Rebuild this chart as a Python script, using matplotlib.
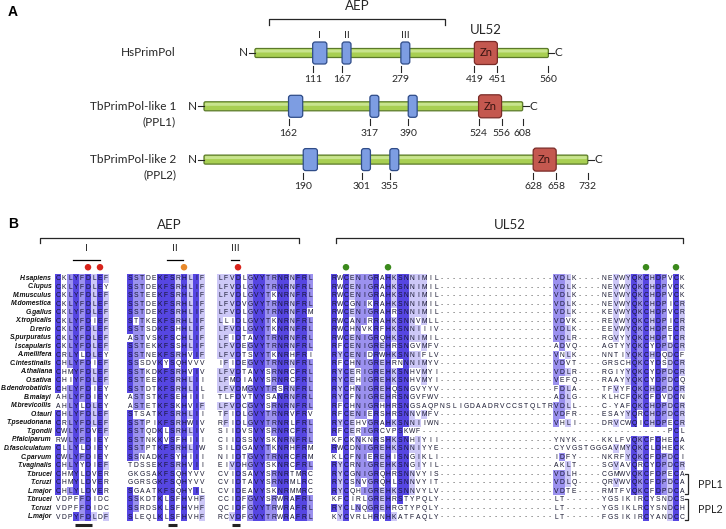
import numpy as np
import matplotlib
matplotlib.use('Agg')
import matplotlib.pyplot as plt
from matplotlib.patches import FancyBboxPatch
from matplotlib.colors import ListedColormap, BoundaryNorm

# ---------------- panel A: domain maps ----------------
PROTEINS = ['HsPrimPol', 'TbPrimPol-like 1', 'TbPrimPol-like 2']
SUBLABELS = ['', '(PPL1)', '(PPL2)']
LENGTHS = [560, 608, 732]
MOTIF_I = [111, 162, 190]
MOTIF_II = [167, 317, 301]
MOTIF_III = [279, 390, 355]
ZN_START = [419, 524, 628]
ZN_END = [451, 556, 658]
ROMAN = ['I', 'II', 'III']
AEP_SPAN_HS = (28, 363)

# ---------------- panel B: alignment ----------------
SPECIES = ['H.sapiens', 'C.lupus', 'M.musculus', 'M.domestica', 'G.gallus', 'X.tropicalis',
           'D.rerio', 'S.purpuratus', 'I.scapularis', 'A.mellifera', 'C.intestinalis',
           'A.thaliana', 'O.sativa', 'B.dendrobatidis', 'B.malayi', 'M.brevicollis', 'O.tauri',
           'T.pseudonana', 'T.gondii', 'P.falciparum', 'D.fasciculatum', 'C.parvum',
           'T.vaginalis', 'T.brucei', 'T.cruzi', 'L.major', 'T.brucei', 'T.cruzi', 'L.major']
SEQ_I = ['CKLYFDLEF', 'CKLYFDLEY', 'CKLYFDLEF', 'CKLYFDLEF', 'CKLYFDLEF', 'CKLYFDIEF',
         'CKLYFDLEF', 'CKLYFDLEF', 'CKLYFDLEF', 'CRLYLDLEY', 'CHLYFDIEF', 'CHMYFDLEF',
         'CHIYFDLEF', 'CHLYFDIEY', 'AHLYFDIEY', 'AHLYLDLEY', 'CHLYFDLEF', 'CRLYFDLEF',
         'CWLYFDVEF', 'RWLYFDIEY', 'CLLYLDIEY', 'CWLYFDIEY', 'CHLYYDIEF', 'CHMYLDVER',
         'CHMYLDVER', 'CHLYLDVER', 'VDPFFDIDC', 'VDPFFDIDC', 'VDPYFDLDF']
SEQ_II = ['SSTDEKFSRHLIF', 'SSTDEKFSRHLIF', 'SSTEEKFSRHLIF', 'SSTDEKFSRHLIF', 'SSTDEKFSRHLIF',
          'STTKEKFSRHLIF', 'SSTSDKFSHHLIF', 'ASTVSKFSCHLIF', 'SSTEKKFSSHLIF', 'SSTNEKFSRHVIF',
          'SSSDVKYSQHVVV', 'SSTKDKFSRHVIV', 'SSTEEKFSRHLII', 'SSTDTKFSRHLIL', 'ASTSTKFSEHIII',
          'ASTETKFSKHVIF', 'STSATKFSRHLII', 'SSTPIKFSRHWIV', 'SSTQDKLSRHLIV', 'SSTNKKVSFHIII',
          'SSTPTKFSRHLIW', 'SSNADKFSYHIII', 'TDSSEKFSRHVII', 'GKGSAKFSQHYVV', 'GGRSGKFSQHYVV',
          'SGAATKFSQHYIL', 'SSKDTKLSFHVHF', 'SSRDSKLSFHVHF', 'SLEQLKLSFHVHF']
SEQ_III = ['LFVDLGVYTRNRNFRL', 'LFVDLGVYTRNRNFRL', 'LFVDLGVYTKNRNFRL', 'LFVDVGVYTRNRNFRL',
           'LFVDLGVYTRNRNFRM', 'LLIDLGVYTKNRNFRL', 'LFVDLGVYTKNRNFRL', 'LFIDTAVYTRNRNFRL',
           'LFVDEGVYTRNRNFRL', 'LFVDTSVYTKNRHFRI', 'IFIDEGVYTRNRNFRL', 'LFVDTAVYSRNRCFRL',
           'LFMDIAVYSRNRCFRL', 'LFVDMGVYTRSRNFRL', 'TLFDVTVYSANRNFRL', 'LFVDCGVYSRNRNFRL',
           'TFIDLGVYTRNRVFRV', 'RFIDLGVYTRNRLFRL', 'SIIDVSVYSRNRCFRL', 'CIIDSSVYSKNRNFRL',
           'SILDGAVYTKNRHFRM', 'NIIDTGVYTRNRCFRM', 'EIVDHGVYSKNRCFRL', 'CVIDSAVYSRNRTMRC',
           'CVIDTAVYSRNRMLRC', 'CVIDEAVYSKNRMMRC', 'CCIDFGVYSRWRAFRL', 'QCIDFGVYTRWRAFRL',
           'RCVDFGVYTRWRAFRL']
UL52_LEFT = ['RWCENIGRAHKSNNIMIL', 'RWCENIGRAHKSNNIMIL', 'RWCENIGRAHKSNNIMIL', 'RWCGNIKRAHKSNNIMIL',
             'RWCENIGRAHRSNNIMIL', 'RWCANIRRAHKSNNVMLL', 'RWCHNVKRFHKSNNIIIV', 'RWCENIGRQHKSNNIMIL',
             'RFCENIGREHRSNGVMFV', 'RYCENIDRWHKSNNIFLV', 'RFCHNIGREHRNNNIMYV', 'RYCERIGREHKSNHVMYI',
             'RYCEHIGREHKSNHVMYI', 'RYCHNIGREHQSNGVYYV', 'RYCFNIGREHRSNGVFWV',
             'RFCHNIGRHHRSNGSAQPNSLIGDAADRVCCSTQLTR', 'RFCENIERSHRSNNVMFV', 'RYCEHVGRAHKSNNIIWN',
             'RFCERIGRCVPSKWF', 'KFCKNKNRSHKSNHIYII', 'RWCDNIGREHKSNNIYYE', 'KLCFNIEREHISNGIKLI',
             'RYCRNIGREHKSNGIYIL', 'RYCGNIGRQHRSNNVYIS', 'RYCSNVGRQHLSNNVYIT', 'RYCQHIGREHKSNNVYLV',
             'KFCIRLGREHRSTYPQLY', 'RYCLNQGREHRGTYPQLY', 'KYCVRLHRNHKATFAQLY']
UL52_RIGHT = ['VDLK----NEVWYQKCHDPVCK', 'VDLK----NEVWYQKCHDPVCK', 'VDLK----NEVWYQKCHDPVCK',
              'VDLK----NEVWYQKCHDPICR', 'VDLK----KEVWYQKCHDPVCR', 'VDVK----REVWYQKCHDPICR',
              'VDLK----EEVWYQKCHDPECR', 'VDLR----RGVYYQKCHDPTCR', 'ADVQ----AGTYYQKCYDPDCR',
              'VNLK----NNTIYQKCHDQDCF', 'VDVT----GRSCHQKCYDSDCR', 'VDLR----RGIYYQKCYDPDCR',
              'VEFQ----RAAYYQKCYDPDCQ', 'FDLA----TFVYFQKCHDPDCR', 'ADLG----KLHCFQKCFDVDCN',
              'VDLL----C-YAFQKCHDPDCR', 'VDFR----ESAYYQRCHDPDCR', 'VHLI----DRVCWQICHDPECR',
              'PCL', 'YNYK----KKLFVQKCFDHECA', 'CYVGSTGGGAVMYQKCLDHECK',
              'IDFY----NKRFYQKCFDPDCI', 'AKLT----SGVAVQRCYDPDCR', 'VDLH----CGMWVQKCFDPECA',
              'VDLQ----QRVWVQKCFDPDCA', 'VDTE----RMTFVQKCFDPDCA', 'LT------YGSIKIRCYSNDCS',
              'LT------YGSIKLRCYSNDCH', 'LT------FGSIKIRCYANDCC']
DOT_COLS = [5, 7, 21, 30, 48, 55, 98, 103]
DOT_COLORS = ['#d8241c', '#d8241c', '#e8892b', '#d8241c', '#3b8a1c', '#3b8a1c', '#3b8a1c', '#3b8a1c']
MOTIF_LABEL_SPANS = [(2.5, 7.0), (18.2, 20.8), (28.8, 30.2)]
MOTIF_UNDERLINES = [(2.8, 5.7), (18.3, 19.8), (29.0, 30.3)]
GROUPS = [('PPL1', 23, 25), ('PPL2', 26, 28)]

TXT = '#262626'
FA = 'Lato'
FB = 'Liberation Sans'

W, H = 726, 529
fig = plt.figure(figsize=(W / 100, H / 100), dpi=100)


def px_axes(x0, y0, x1, y1):
    ax = fig.add_axes([x0 / W, 1 - y1 / H, (x1 - x0) / W, (y1 - y0) / H])
    ax.axis('off')
    return ax


# ======== panel A ========
PXR, PXROW = 0.525, 53.3      # pixels per residue / per protein row
OFFSETS = [97, 0, 0]           # HsPrimPol drawn shifted so the Zn domains line up
axA = px_axes(0, 0, W, 212)
axA.set_xlim(1 - 204 / PXR, 1 + (W - 204) / PXR)
axA.set_ylim((212 - 53) / PXROW, -53 / PXROW)
dx = lambda p: p / PXR
dy = lambda p: p / PXROW
asp = PXR / PXROW


def rbox(x, y, w, h, fc, ec, r=2.5, z=2):
    p = FancyBboxPatch((x, y), w, h, boxstyle=f'round,pad=0,rounding_size={dx(r)}',
                       mutation_aspect=asp, fc=fc, ec=ec, lw=0.9, zorder=z)
    axA.add_patch(p)


def tick(x, y, lab):
    axA.plot([x, x], [y + dy(13), y + dy(19)], color=TXT, lw=0.8)
    axA.text(x, y + dy(27), str(lab), ha='center', va='center', fontsize=7.5, family=FA, color=TXT)


for i, name in enumerate(PROTEINS):
    off, L, y = OFFSETS[i], LENGTHS[i], i
    x0, x1 = off + 1, off + L
    rbox(x0, y - dy(4.5), L - 1, dy(9), '#a8cf52', '#5b7a2a', r=1.5)
    rbox(x0 + dx(1), y - dy(3.5), L - 1 - dx(2), dy(3), '#c8e48e', 'none', r=1, z=2.1)
    axA.plot([x0 - dx(6), x0], [y, y], color=TXT, lw=0.8)
    axA.plot([x1, x1 + dx(6)], [y, y], color=TXT, lw=0.8)
    axA.text(x0 - dx(7), y, 'N', ha='right', va='center', fontsize=8.5, family=FA, color=TXT)
    axA.text(x1 + dx(6.5), y, 'C', ha='left', va='center', fontsize=8.5, family=FA, color=TXT)
    axA.text(1 + (176 - 204) / PXR, y, name, ha='right', va='center', fontsize=8.5, family=FA, color=TXT)
    if SUBLABELS[i]:
        axA.text(1 + (176 - 204) / PXR, y + dy(15), SUBLABELS[i], ha='right', va='center',
                 fontsize=8.5, family=FA, color=TXT)
    for s, w, rn in zip([MOTIF_I[i], MOTIF_II[i], MOTIF_III[i]], [27, 17, 17], ROMAN):
        rbox(off + s, y - dy(11), w, dy(22), '#7d9de2', '#2f4c88', r=2.5, z=3)
        tick(off + s, y, s)
        if i == 0:
            axA.text(off + s + w / 2, y - dy(18), rn, ha='center', va='center', fontsize=7.5,
                     family=FA, color=TXT)
    zs = off + ZN_START[i]
    zw = dx(23)
    rbox(zs, y - dy(11.5), zw, dy(23), '#c4584f', '#7a2c28', r=3, z=3)
    axA.text(zs + zw / 2, y, 'Zn', ha='center', va='center', fontsize=8, family=FA, color='#3a1512', zorder=4)
    tick(zs, y, ZN_START[i])
    tick(zs + zw, y, ZN_END[i])
    tick(x1, y, L)
    if i == 0:
        axA.text(zs + zw / 2, y - dy(23), 'UL52', ha='center', va='center', fontsize=9.5, family=FA, color=TXT)

a0, a1 = AEP_SPAN_HS[0] + OFFSETS[0], AEP_SPAN_HS[1] + OFFSETS[0]
axA.plot([a0, a0, a1, a1], [-dy(28), -dy(34), -dy(34), -dy(28)], color=TXT, lw=0.9)
axA.text((a0 + a1) / 2, -dy(47), 'AEP', ha='center', va='center', fontsize=9.5, family=FA, color=TXT)
fig.text(8 / W, 1 - 12 / H, 'A', fontsize=10, fontweight='bold', family=FB, va='center')
fig.text(8 / W, 1 - 224 / H, 'B', fontsize=10, fontweight='bold', family=FB, va='center')

# ======== panel B ========
BLOCK_START = [0, 12, 27, 46]
ul52 = [f'{l:-<37}' + f'{r:->22}' for l, r in zip(UL52_LEFT, UL52_RIGHT)]
blocks = [SEQ_I, SEQ_II, SEQ_III, ul52]
ncol = BLOCK_START[-1] + len(ul52[0])
nrow = len(SPECIES)
grid = np.full((nrow, ncol), ' ', dtype='<U1')
for b0, blk in zip(BLOCK_START, blocks):
    for r, s in enumerate(blk):
        for c, ch in enumerate(s):
            grid[r, b0 + c] = ch

# Jalview-style percentage identity shading against column consensus
level = np.zeros((nrow, ncol))
for c in range(ncol):
    col = [ch for ch in grid[:, c] if ch not in ' -']
    if not col:
        continue
    cons = max(set(col), key=col.count)
    pid = col.count(cons) / nrow
    lv = 3 if pid > 0.78 else 2 if pid > 0.6 else 1 if pid > 0.4 else 0
    level[grid[:, c] == cons, c] = lv

axB = px_axes(0, 212, W, H)
axB.set_xlim(-58 / 6, (W - 58) / 6)
axB.set_ylim((H - 278.3) / 8.51, (212 - 278.3) / 8.51)
cmap = ListedColormap(['#ffffff', '#cdc8f7', '#9b91ef', '#5646e2'])
axB.pcolormesh(np.arange(ncol + 1) - 0.5, np.arange(nrow + 1) - 0.5, level, cmap=cmap,
               norm=BoundaryNorm([-0.5, 0.5, 1.5, 2.5, 3.5], 4), zorder=1)
for r in range(nrow):
    axB.text(-1.0, r, SPECIES[r], ha='right', va='center', fontsize=4.9, family=FB,
             fontweight='bold', style='italic', color='#111111')
    for c in range(ncol):
        ch = grid[r, c]
        if ch == ' ':
            continue
        axB.text(c, r + 0.05, ch, ha='center', va='center', fontsize=4.9, family=FB,
                 color='#555555' if ch == '-' else '#15152e', zorder=3)

# brackets and headings
for (c0, c1), lab in zip([(-3.0, 40.2), (46.3, 104.2)], ['AEP', 'UL52']):
    axB.plot([c0, c0, c1, c1], [-4.1, -4.75, -4.75, -4.1], color=TXT, lw=0.9)
    axB.text((c0 + c1) / 2, -6.3, lab, ha='center', va='center', fontsize=9.5, family=FA, color=TXT)
for (c0, c1), rn in zip(MOTIF_LABEL_SPANS, ROMAN):
    axB.plot([c0, c1], [-2.15, -2.15], color='black', lw=0.9)
    axB.text((c0 + c1) / 2, -3.5, rn, ha='center', va='center', fontsize=7.5, family=FA, color=TXT)
axB.scatter(DOT_COLS, [-1.3] * len(DOT_COLS), s=22, c=DOT_COLORS, zorder=4, linewidths=0)
for c0, c1 in MOTIF_UNDERLINES:
    axB.plot([c0, c1], [28.95, 28.95], color='#222222', lw=2.2, solid_capstyle='butt')
for lab, r0, r1 in GROUPS:
    axB.plot([104.45, 105.0, 105.0, 104.45], [r0 - 0.05, r0 - 0.05, r1 + 0.4, r1 + 0.4], color=TXT, lw=0.9)
    axB.text(106.6, (r0 + r1) / 2 + 0.2, lab, ha='left', va='center', fontsize=7.8, family=FA, color=TXT)

fig.savefig('out.png', dpi=100)
